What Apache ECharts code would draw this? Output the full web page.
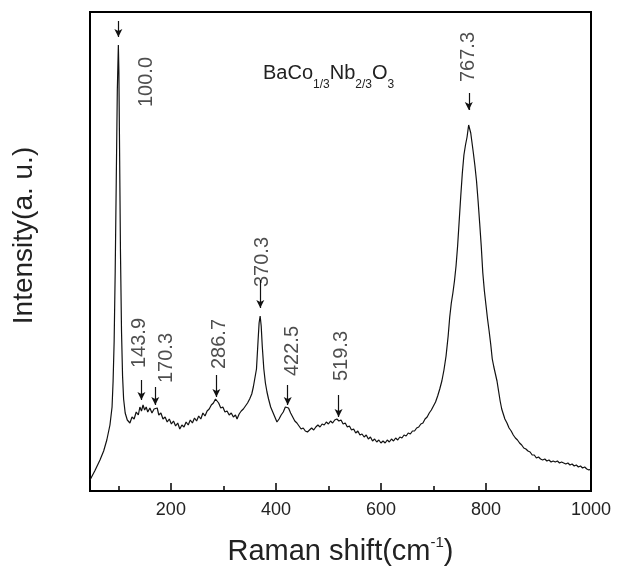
<!DOCTYPE html>
<html>
<head>
<meta charset="utf-8">
<script src="https://cdn.jsdelivr.net/npm/echarts@6/dist/echarts.min.js"></script>
<style>
  html, body { margin: 0; padding: 0; background: #fff; }
  #chart { width: 622px; height: 567px; }
</style>
</head>
<body>
<div id="chart"></div>
<script>
// Raman spectrum (cm-1, arbitrary intensity)
var ramanShift = [
  46, 55, 65, 72, 78, 84, 88, 90, 92, 94, 96, 98, 100, 101, 102, 104, 106, 108, 110, 113,
  117, 122, 126, 130, 134, 138, 141, 144, 147, 150, 153, 156, 160, 164, 168, 171, 174, 177, 181, 185,
  189, 193, 197, 201, 205, 209, 213, 217, 221, 225, 229, 233, 237, 241, 245, 249, 253, 257, 261, 265,
  269, 273, 277, 281, 285, 288, 291, 295, 299, 303, 307, 311, 315, 319, 323, 326, 330, 334, 338, 342,
  346, 350, 354, 357, 360, 363, 366, 368, 370, 372, 374, 377, 380, 383, 386, 390, 394, 398, 402, 406,
  410, 414, 418, 421, 424, 428, 432, 436, 440, 444, 448, 452, 456, 460, 464, 468, 472, 476, 480, 484,
  488, 492, 496, 500, 504, 508, 512, 516, 520, 524, 528, 532, 536, 540, 544, 548, 552, 556, 560, 564,
  568, 572, 576, 580, 584, 588, 592, 596, 600, 604, 608, 612, 616, 620, 624, 628, 632, 636, 640, 644,
  648, 652, 656, 660, 664, 668, 672, 676, 680, 684, 688, 692, 696, 700, 704, 708, 712, 716, 720, 724,
  728, 731, 734, 737, 740, 743, 746, 749, 752, 755, 758, 761, 764, 767, 769, 771, 773, 776, 779, 782,
  785, 788, 791, 794, 797, 800, 803, 806, 809, 812, 815, 818, 821, 824, 827, 830, 833, 836, 840, 844,
  848, 852, 856, 860, 864, 868, 872, 876, 880, 884, 888, 892, 896, 900, 904, 908, 912, 916, 920, 924,
  928, 932, 936, 940, 944, 948, 952, 956, 960, 964, 968, 972, 976, 980, 984, 988, 992, 996, 1000
];
var intensity = [
  11, 20, 31, 40, 51, 66, 84, 110, 150, 220, 310, 400, 446, 420, 360, 240, 160, 115, 92, 78,
  71, 68, 74, 72, 79, 76, 84, 80, 86, 81, 84, 79, 83, 78, 82, 80, 83, 76, 78, 72,
  74, 69, 72, 67, 70, 65, 68, 62, 66, 64, 69, 66, 71, 68, 73, 70, 75, 72, 78, 75,
  80, 82, 86, 88, 92, 91, 88, 83, 84, 79, 80, 76, 78, 74, 76, 72, 77, 80, 82, 85,
  88, 92, 97, 104, 113, 122, 150, 168, 175, 165, 145, 122, 108, 99, 92, 84, 79, 74, 69, 72,
  76, 79, 84, 86, 83, 78, 74, 70, 68, 65, 62, 63, 60, 59, 61, 63, 61, 64, 66, 64,
  67, 66, 69, 67, 70, 68, 71, 72, 70, 71, 67, 68, 64, 65, 61, 62, 58, 60, 56, 57,
  54, 56, 52, 54, 50, 52, 49, 51, 48, 50, 48, 51, 49, 52, 50, 53, 51, 54, 53, 56,
  55, 58, 57, 60, 60, 63, 64, 67, 68, 72, 74, 78, 81, 85, 89, 95, 102, 110, 121, 135,
  155, 174, 188, 198, 210, 225, 245, 270, 295, 318, 336, 346, 354, 366, 362, 358, 350, 338, 325, 310,
  290, 268, 245, 218, 200, 186, 172, 160, 147, 132, 124, 117, 110, 100, 90, 82, 77, 72, 68, 63,
  60, 56, 53, 51, 48, 46, 43, 42, 40, 39, 36, 36, 33, 34, 32, 31, 32, 30, 31, 29,
  30, 29, 30, 28, 29, 28, 27, 28, 26, 27, 25, 26, 24, 25, 23, 24, 22, 21, 22
];

// peak annotations
var peakShift = [100, 143.9, 170.3, 286.7, 370.3, 422.5, 519.3, 767.3];
var peakLabel = ['100.0', '143.9', '170.3', '286.7', '370.3', '422.5', '519.3', '767.3'];

// tick labels
var majorTicks = [200, 400, 600, 800, 1000];
var minorTicks = [100, 300, 500, 700, 900];

// annotation layout (arrow tail / tip, label centre), in axis units
var arrowTail = [470, 111, 104, 116, 211, 106, 96, 398];
var arrowTip = [454, 91, 86, 94, 183, 86, 74, 381];
var labelAt = [[154, 409], [141, 148], [191, 133], [293, 147], [375, 229], [432, 140], [524, 135], [766, 434]];

var font = "'Liberation Sans', Arial, sans-serif";

var spectrum = ramanShift.map(function (x, i) { return [x, intensity[i]]; });

var arrows = peakShift.map(function (x, i) {
  return [{ coord: [x, arrowTail[i]] }, { coord: [x, arrowTip[i]] }];
});

var labels = peakLabel.map(function (t, i) {
  return [labelAt[i][0], labelAt[i][1], t];
});

var option = {
  backgroundColor: '#fff',
  animation: false,
  title: {
    text: '{b|BaCo}{s|1/3}{b|Nb}{s|2/3}{b|O}{s|3}',
    left: 263,
    top: 63,
    padding: 0,
    textStyle: {
      fontWeight: 'normal',
      rich: {
        b: { fontFamily: font, fontSize: 20, fontWeight: 'normal', color: '#222', lineHeight: 28, verticalAlign: 'top' },
        s: { fontFamily: font, fontSize: 12, fontWeight: 'normal', color: '#222', lineHeight: 12, verticalAlign: 'bottom' }
      }
    }
  },
  grid: {
    left: 90, right: 31, top: 12, bottom: 76,
    outerBoundsMode: 'none',
    show: true, borderColor: '#000', borderWidth: 2
  },
  xAxis: [{
    type: 'value',
    min: 46,
    max: 1000,
    splitLine: { show: false },
    axisLine: { lineStyle: { color: '#000', width: 2 } },
    axisTick: { inside: true, length: 8, customValues: majorTicks, lineStyle: { color: '#000', width: 1.5 } },
    axisLabel: {
      customValues: majorTicks, fontFamily: font, fontSize: 18, color: '#222', margin: 10,
      formatter: function (v) { return String(v); }
    },
    name: 'Raman shift(cm{sup|-1})',
    nameLocation: 'middle',
    nameGap: 78,
    nameMoveOverlap: false,
    nameTextStyle: {
      rich: {
        sup: { fontFamily: font, fontSize: 15, color: '#222', lineHeight: 15, verticalAlign: 'top' }
      },
      fontFamily: font, fontSize: 29, color: '#222', lineHeight: 34, verticalAlign: 'bottom'
    }
  }, {
    type: 'value',
    min: 46,
    max: 1000,
    position: 'bottom',
    splitLine: { show: false },
    axisLine: { show: false },
    axisTick: { inside: true, length: 5, customValues: minorTicks, lineStyle: { color: '#000', width: 1.5 } },
    axisLabel: { show: false }
  }],
  yAxis: {
    type: 'value',
    min: 0,
    max: 479,
    splitLine: { show: false },
    axisTick: { show: false },
    axisLabel: { show: false },
    axisLine: { show: true, lineStyle: { color: '#000', width: 2 } },
    name: 'Intensity(a. u.)',
    nameLocation: 'middle',
    nameRotate: 90,
    nameGap: 52,
    nameTextStyle: { fontFamily: font, fontSize: 28, color: '#222', padding: [0, 0, 0, 32] }
  },
  series: [{
    type: 'line',
    data: spectrum,
    showSymbol: false,
    symbol: 'none',
    lineStyle: { color: '#111', width: 1.2 },
    silent: true,
    markLine: {
      silent: true,
      symbol: ['none', 'arrow'],
      symbolSize: [6, 8],
      label: { show: false },
      lineStyle: { color: '#111', width: 1.2, type: 'solid' },
      data: arrows
    }
  }, {
    type: 'scatter',
    data: labels,
    symbolSize: 0,
    silent: true,
    clip: false,
    label: {
      show: true,
      position: 'inside',
      rotate: 90,
      fontFamily: font,
      fontSize: 20,
      color: '#222',
      formatter: function (p) { return p.data[2]; }
    }
  }]
};

var myChart = echarts.init(document.getElementById('chart'));
myChart.setOption(option);
</script>
</body>
</html>
